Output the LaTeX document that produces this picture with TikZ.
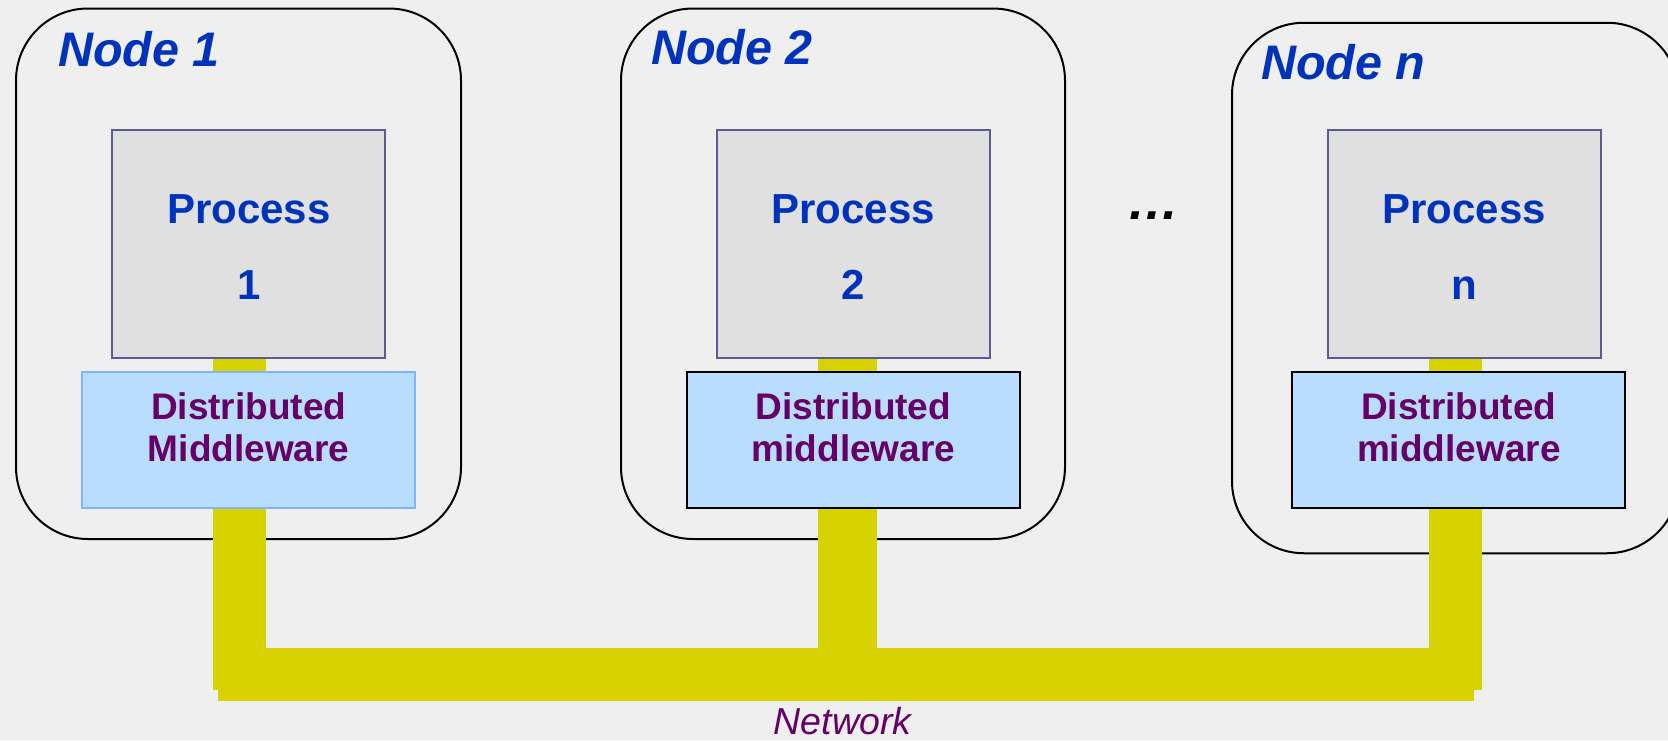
\documentclass[tikz,border=0pt]{standalone}
\usepackage{fontspec}
\setmainfont{Liberation Sans}

\definecolor{pagebg}{HTML}{EFEFEF}
\definecolor{procfill}{HTML}{E0E0E0}
\definecolor{procline}{HTML}{5A5A96}
\definecolor{mwfill}{HTML}{B9DDFF}
\definecolor{mwlight}{HTML}{80B2FF}
\definecolor{busyellow}{HTML}{D6D300}
\definecolor{titleblue}{HTML}{0033BB}
\definecolor{mwpurple}{HTML}{660066}

% layers: host frames at the back, network wiring above them, boxes on top
\pgfdeclarelayer{frame}
\pgfdeclarelayer{wires}
\pgfsetlayers{frame,wires,main}

\tikzset{
  host/.style={draw=black, line width=2pt, rounded corners=72pt, inner sep=0pt,
    minimum width=#1, minimum height=530.5pt},
  hostlabel/.style={anchor=base west, inner sep=0pt, text=titleblue,
    font=\fontsize{48.5}{52}\selectfont\bfseries\itshape},
  procbox/.style={draw=procline, line width=2pt, fill=procfill, inner sep=0pt,
    text=titleblue, font=\fontsize{42}{76}\selectfont\bfseries},
  mwbox/.style={draw=#1, line width=2pt, fill=mwfill, inner sep=0pt,
    text=mwpurple, font=\fontsize{37}{42.7}\selectfont\bfseries},
  bus/.style={fill=busyellow, draw=none, inner sep=0pt,
    minimum width=1256pt, minimum height=53pt},
  wire/.style={draw=busyellow, line cap=butt, line width=#1},
  netlabel/.style={anchor=base, inner sep=0pt, text=mwpurple,
    font=\fontsize{37.5}{40}\selectfont\itshape},
  gapdots/.style={anchor=base, inner sep=0pt, text=black,
    font=\fontsize{52}{54}\selectfont\bfseries\itshape}
}

\newcommand{\proctext}[1]{\parbox[c][227.5pt][t]{273pt}{\centering\rule{0pt}{93pt}Process\\#1}}
\newcommand{\mwtext}[2]{\parbox[c][136pt][t]{333pt}{\centering\rule{0pt}{47pt}#1\\#2}}

\begin{document}
\begin{tikzpicture}[x=1pt, y=-1pt]
  \useasboundingbox (0,0) rectangle (1668,740);

  % host machines
  \begin{pgfonlayer}{frame}
    \fill[pagebg] (0,0) rectangle (1668,740);
    \node[host=445pt] (n1) at (238.5,273.75) {};
    \node[host=444pt] (n2) at (843,273.75) {};
    \node[host=447pt] (nn) at (1455.5,288) {};
  \end{pgfonlayer}

  \node[hostlabel] (l1) at (58,66) {Node 1};
  \node[hostlabel] (l2) at (651,64) {Node 2};
  \node[hostlabel] (ln) at (1261,79) {Node n};

  % processes
  \node[procbox] (p1) at (248.8,243.75) {\proctext{1}};
  \node[procbox] (p2) at (853.3,243.75) {\proctext{2}};
  \node[procbox] (pn) at (1464.2,243.75) {\proctext{n}};

  % middleware layers
  \node[mwbox=mwlight] (m1) at (248.7,440) {\mwtext{Distributed}{Middleware}};
  \node[mwbox=black] (m2) at (853.5,440) {\mwtext{Distributed}{middleware}};
  \node[mwbox=black] (mn) at (1458.8,440) {\mwtext{Distributed}{middleware}};

  \node[gapdots] (gap) at (1153,219) {…};

  % network bus
  \node[bus] (net) at (846.15,674.65) {};
  \node[netlabel] (netname) at ([xshift=-3.5pt,yshift=-33pt]net.south) {Network};

  \begin{pgfonlayer}{wires}
    \draw[wire=53.3pt] ([xshift=-9.5pt]p1.south) -- ([xshift=-9.5pt,yshift=11pt]p1.south |- net.south);
    \draw[wire=59.3pt] ([xshift=-6pt]p2.south) -- ([xshift=-6pt]p2.south |- net.north);
    \draw[wire=53pt] ([xshift=-8.7pt]pn.south) -- ([xshift=-8.7pt,yshift=11pt]pn.south |- net.south);
  \end{pgfonlayer}
\end{tikzpicture}
\end{document}
